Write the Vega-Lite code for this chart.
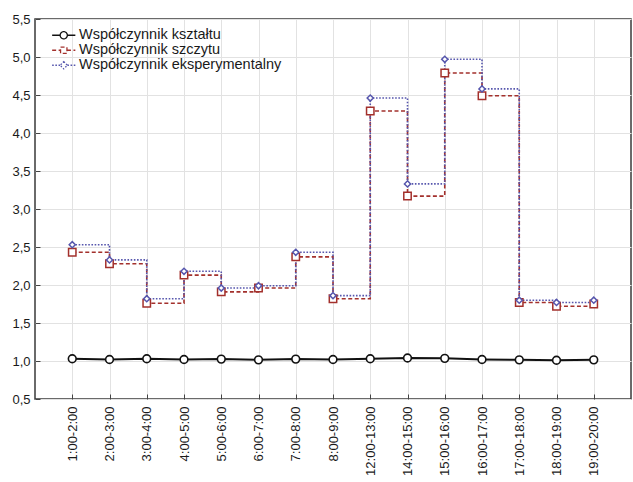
{
  "$schema": "https://vega.github.io/schema/vega-lite/v6.json",
  "width": 596,
  "height": 380,
  "autosize": {"type": "none"},
  "padding": {"left": 35, "top": 19, "right": 2, "bottom": 83},
  "background": "white",
  "config": {
    "font": "Liberation Sans",
    "view": {"stroke": "#3a3a3a", "strokeWidth": 1.5},
    "axis": {"gridColor": "#e2e2e2", "gridWidth": 1, "domain": false, "tickColor": "#444", "labelColor": "#1a1a1a", "labelFontSize": 13, "labelFont": "Liberation Sans", "title": null}
  },
  "data": {"values": [
    {"t": "1:00-2:00", "s": "Współczynnik kształtu", "v": 1.03},
    {"t": "2:00-3:00", "s": "Współczynnik kształtu", "v": 1.02},
    {"t": "3:00-4:00", "s": "Współczynnik kształtu", "v": 1.03},
    {"t": "4:00-5:00", "s": "Współczynnik kształtu", "v": 1.02},
    {"t": "5:00-6:00", "s": "Współczynnik kształtu", "v": 1.025},
    {"t": "6:00-7:00", "s": "Współczynnik kształtu", "v": 1.015},
    {"t": "7:00-8:00", "s": "Współczynnik kształtu", "v": 1.025},
    {"t": "8:00-9:00", "s": "Współczynnik kształtu", "v": 1.02},
    {"t": "12:00-13:00", "s": "Współczynnik kształtu", "v": 1.03},
    {"t": "14:00-15:00", "s": "Współczynnik kształtu", "v": 1.04},
    {"t": "15:00-16:00", "s": "Współczynnik kształtu", "v": 1.035},
    {"t": "16:00-17:00", "s": "Współczynnik kształtu", "v": 1.02},
    {"t": "17:00-18:00", "s": "Współczynnik kształtu", "v": 1.015},
    {"t": "18:00-19:00", "s": "Współczynnik kształtu", "v": 1.01},
    {"t": "19:00-20:00", "s": "Współczynnik kształtu", "v": 1.015},
    {"t": "1:00-2:00", "s": "Współczynnik szczytu", "v": 2.43},
    {"t": "2:00-3:00", "s": "Współczynnik szczytu", "v": 2.28},
    {"t": "3:00-4:00", "s": "Współczynnik szczytu", "v": 1.76},
    {"t": "4:00-5:00", "s": "Współczynnik szczytu", "v": 2.13},
    {"t": "5:00-6:00", "s": "Współczynnik szczytu", "v": 1.91},
    {"t": "6:00-7:00", "s": "Współczynnik szczytu", "v": 1.96},
    {"t": "7:00-8:00", "s": "Współczynnik szczytu", "v": 2.37},
    {"t": "8:00-9:00", "s": "Współczynnik szczytu", "v": 1.82},
    {"t": "12:00-13:00", "s": "Współczynnik szczytu", "v": 4.29},
    {"t": "14:00-15:00", "s": "Współczynnik szczytu", "v": 3.17},
    {"t": "15:00-16:00", "s": "Współczynnik szczytu", "v": 4.79},
    {"t": "16:00-17:00", "s": "Współczynnik szczytu", "v": 4.49},
    {"t": "17:00-18:00", "s": "Współczynnik szczytu", "v": 1.77},
    {"t": "18:00-19:00", "s": "Współczynnik szczytu", "v": 1.72},
    {"t": "19:00-20:00", "s": "Współczynnik szczytu", "v": 1.75},
    {"t": "1:00-2:00", "s": "Współczynnik eksperymentalny", "v": 2.53},
    {"t": "2:00-3:00", "s": "Współczynnik eksperymentalny", "v": 2.33},
    {"t": "3:00-4:00", "s": "Współczynnik eksperymentalny", "v": 1.82},
    {"t": "4:00-5:00", "s": "Współczynnik eksperymentalny", "v": 2.18},
    {"t": "5:00-6:00", "s": "Współczynnik eksperymentalny", "v": 1.96},
    {"t": "6:00-7:00", "s": "Współczynnik eksperymentalny", "v": 1.99},
    {"t": "7:00-8:00", "s": "Współczynnik eksperymentalny", "v": 2.43},
    {"t": "8:00-9:00", "s": "Współczynnik eksperymentalny", "v": 1.86},
    {"t": "12:00-13:00", "s": "Współczynnik eksperymentalny", "v": 4.46},
    {"t": "14:00-15:00", "s": "Współczynnik eksperymentalny", "v": 3.33},
    {"t": "15:00-16:00", "s": "Współczynnik eksperymentalny", "v": 4.97},
    {"t": "16:00-17:00", "s": "Współczynnik eksperymentalny", "v": 4.58},
    {"t": "17:00-18:00", "s": "Współczynnik eksperymentalny", "v": 1.80},
    {"t": "18:00-19:00", "s": "Współczynnik eksperymentalny", "v": 1.77},
    {"t": "19:00-20:00", "s": "Współczynnik eksperymentalny", "v": 1.80}
  ]},
  "encoding": {
    "x": {
      "field": "t", "type": "ordinal", "sort": null,
      "scale": {"type": "point", "padding": 1},
      "axis": {"labelAngle": -90, "tickSize": -5, "labelPadding": 12, "grid": true, "labelBaseline": "middle", "labelAlign": "right"}
    },
    "y": {
      "field": "v", "type": "quantitative",
      "scale": {"domain": [0.5, 5.5], "nice": false, "zero": false},
      "axis": {"values": [0.5, 1, 1.5, 2, 2.5, 3, 3.5, 4, 4.5, 5, 5.5], "tickSize": -5, "labelPadding": 10, "grid": true, "labelExpr": "replace(format(datum.value, '.1f'), '.', ',')"}
    },
    "color": {
      "field": "s", "type": "nominal",
      "scale": {"domain": ["Współczynnik kształtu", "Współczynnik szczytu", "Współczynnik eksperymentalny"], "range": ["#111111", "#a3302c", "#5656ad"]},
      "legend": {
        "orient": "top-left", "title": null, "offset": 9, "padding": 0,
        "symbolSize": 64, "symbolOffset": 12.5, "labelOffset": 8, "labelFontSize": 14.5, "labelColor": "#1a1a1a", "labelLimit": 400,
        "rowPadding": 0, "symbolStrokeWidth": 1.3, "symbolFillColor": "white", "symbolOpacity": 1
      }
    }
  },
  "layer": [
    {
      "transform": [{"filter": "datum.s === 'Współczynnik kształtu'"}],
      "mark": {"type": "line", "strokeWidth": 2}
    },
    {
      "transform": [{"filter": "datum.s !== 'Współczynnik kształtu'"}],
      "mark": {"type": "line", "interpolate": "step-after", "strokeWidth": 1.6},
      "encoding": {
        "strokeDash": {
          "field": "s", "type": "nominal",
          "scale": {"domain": ["Współczynnik kształtu", "Współczynnik szczytu", "Współczynnik eksperymentalny"], "range": [[1, 0], [4, 2.5], [1.6, 1.6]]}
        }
      }
    },
    {
      "transform": [{"filter": "datum.s === 'Współczynnik kształtu'"}],
      "mark": {"type": "point", "shape": "circle", "size": 60, "filled": false, "fill": "white", "fillOpacity": 1, "strokeWidth": 1.6, "opacity": 1}
    },
    {
      "transform": [{"filter": "datum.s === 'Współczynnik szczytu'"}],
      "mark": {"type": "point", "shape": "square", "size": 55, "filled": false, "fill": "white", "fillOpacity": 1, "strokeWidth": 1.5, "opacity": 1}
    },
    {
      "transform": [{"filter": "datum.s === 'Współczynnik eksperymentalny'"}],
      "mark": {"type": "point", "shape": "diamond", "size": 38, "filled": false, "fill": "white", "fillOpacity": 1, "strokeWidth": 1.5, "opacity": 1}
    },
    {
      "mark": {"type": "point", "filled": false, "opacity": 0},
      "encoding": {
        "shape": {
          "field": "s", "type": "nominal",
          "scale": {"domain": ["Współczynnik kształtu", "Współczynnik szczytu", "Współczynnik eksperymentalny"], "range": [
            "M-2.9,0H-0.9M0.9,0H2.9M-0.9,0A0.9,0.9 0 1,1 0.9,0A0.9,0.9 0 1,1 -0.9,0Z",
            "M-2.9,0H-0.8M0.8,0H2.9M-0.8,-0.8H0.8V0.8H-0.8Z",
            "M-2.9,0H-0.9M0.9,0H2.9M0,-0.9L0.9,0L0,0.9L-0.9,0Z"
          ]}
        }
      }
    }
  ]
}
